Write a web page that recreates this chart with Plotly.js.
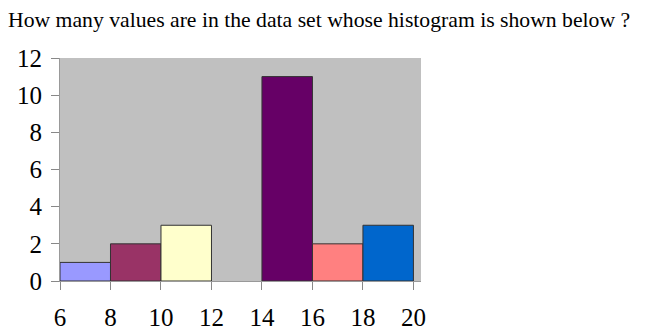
<!DOCTYPE html>
<html>
<head>
<meta charset="utf-8">
<script src="https://cdn.plot.ly/plotly-3.0.1.min.js"></script>
<style>html,body{margin:0;padding:0;background:#fff;}#chart{width:650px;height:334px;}</style>
</head>
<body>
<div id="chart"></div>
<script>
var binStarts = [6, 8, 10, 12, 14, 16, 18];
var binWidth = 2;
var counts = [1, 2, 3, 0, 11, 2, 3];
var barColors = ['#9999ff', '#993366', '#ffffcc', '#c0c0c0', '#660066', '#ff8080', '#0066cc'];
var xTicks = [6, 8, 10, 12, 14, 16, 18, 20];
var yTicks = [0, 2, 4, 6, 8, 10, 12];
var titleText = 'How many values are in the data set whose histogram is shown below ?';

var centers = binStarts.map(function (s) { return s + binWidth / 2; });

var trace = {
  type: 'bar',
  x: centers,
  y: counts,
  width: binStarts.map(function () { return binWidth; }),
  marker: {
    color: barColors,
    line: { color: '#333333', width: counts.map(function (c) { return c > 0 ? 1 : 0; }) }
  },
  hoverinfo: 'x+y'
};

var serif = 'Liberation Serif, Times New Roman, serif';
var layout = {
  width: 650, height: 334,
  margin: { l: 60, r: 229, t: 58, b: 53 },
  paper_bgcolor: '#ffffff',
  plot_bgcolor: '#c0c0c0',
  showlegend: false,
  title: {
    text: titleText,
    font: { family: serif, size: 21.7, color: '#000' },
    x: 8 / 650, xref: 'container', xanchor: 'left', y: 1, yref: 'container', yanchor: 'top',
    pad: { t: 12 }
  },
  xaxis: {
    range: [6, 20.3],
    tickvals: xTicks,
    ticktext: xTicks.map(String),
    ticks: 'outside', ticklen: 8, tickcolor: '#888', tickwidth: 1,
    showgrid: false, zeroline: false,
    showline: true, linecolor: '#999', linewidth: 1,
    ticklabelstandoff: 6,
    tickfont: { family: serif, size: 25, color: '#000' },
    fixedrange: true
  },
  yaxis: {
    range: [0, 12],
    tickvals: yTicks,
    ticktext: yTicks.map(String),
    ticks: 'outside', ticklen: 8, tickcolor: '#888', tickwidth: 1,
    showgrid: false, zeroline: false,
    showline: true, linecolor: '#999', linewidth: 1,
    ticklabelstandoff: 4,
    tickfont: { family: serif, size: 25, color: '#000' },
    fixedrange: true
  },
  bargap: 0
};

Plotly.newPlot('chart', [trace], layout, { displayModeBar: false, staticPlot: true });
</script>
</body>
</html>
